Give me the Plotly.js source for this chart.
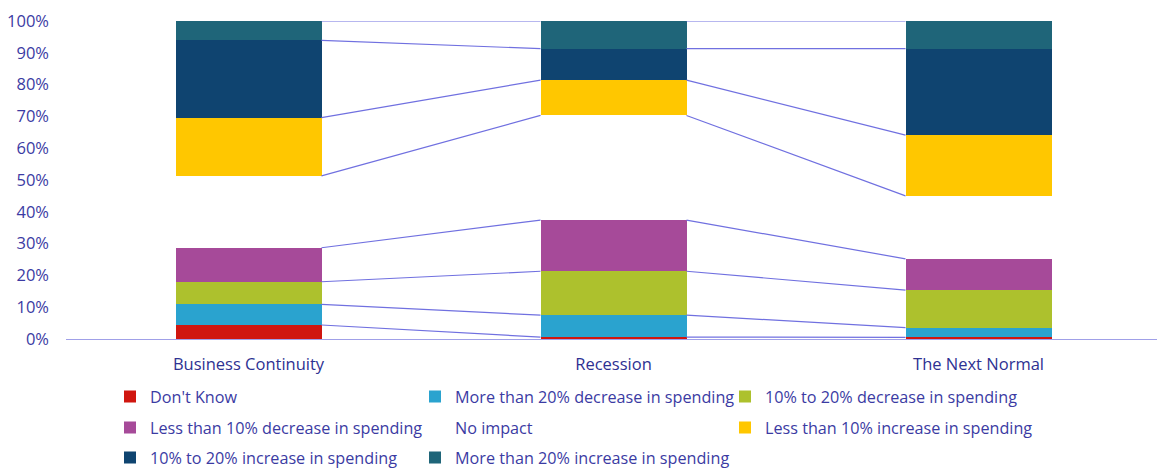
<!DOCTYPE html>
<html>
<head>
<meta charset="utf-8">
<script src="https://cdn.plot.ly/plotly-3.0.1.min.js"></script>
<style>html,body{margin:0;padding:0;background:#fff;}#chart{width:1157px;height:468px;}</style>
</head>
<body>
<div id="chart"></div>
<script>
// Data (percent of respondents)
const categories = ["Business Continuity", "Recession", "The Next Normal"];
const seriesNames = [
  "Don't Know",
  "More than 20% decrease in spending",
  "10% to 20% decrease in spending",
  "Less than 10% decrease in spending",
  "No impact",
  "Less than 10% increase in spending",
  "10% to 20% increase in spending",
  "More than 20% increase in spending"
];
const dontKnow      = [4.4, 0.6, 0.5];
const dec20plus     = [6.5, 6.9, 3.1];
const dec10to20     = [7.1, 13.8, 11.8];
const decLess10     = [10.7, 16.1, 9.8];
const noImpact      = [22.6, 32.9, 19.8];
const incLess10     = [18.3, 11.1, 19.1];
const inc10to20     = [24.3, 9.9, 27.2];
const inc20plus     = [6.1, 8.7, 8.7];
const yTickVals = [0,10,20,30,40,50,60,70,80,90,100];
const yTickText = ["0%","10%","20%","30%","40%","50%","60%","70%","80%","90%","100%"];

const seriesValues = [dontKnow, dec20plus, dec10to20, decLess10, noImpact, incLess10, inc10to20, inc20plus];
const colors = ["#d0160f","#2aa3cf","#adc12d","#a64a99","rgba(0,0,0,0)","#ffc700","#0f4470","#1f6579"];

// legend grid placement (pixels): 3 columns x 3 rows
const legendColX = [110, 415, 725];
const legendRowY = [397, 428, 458];

const xs = categories.map((c,i)=>i);
const barWidth = 0.4;
const traces = [];
const layoutLegends = {};
seriesValues.forEach((vals, k) => {
  const lname = k === 0 ? "legend" : "legend" + (k + 1);
  traces.push({
    type: "bar", x: xs, y: vals, name: seriesNames[k],
    marker: {color: colors[k], line: {width: 0}},
    width: barWidth, legend: lname, hoverinfo: "name+y"
  });
  layoutLegends[lname] = {
    orientation: "h", xref: "container", yref: "container",
    xanchor: "left", yanchor: "middle",
    x: legendColX[k % 3] / 1157, y: 1 - legendRowY[Math.floor(k / 3)] / 468,
    font: {family: "Open Sans, sans-serif", size: 16.2, color: "#3b3ba3"},
    bgcolor: "rgba(0,0,0,0)", itemclick: false
  };
});

// connector lines between cumulative tops
const cum = [];
let running = xs.map(()=>0);
seriesValues.forEach(vals => {
  running = running.map((r,i)=>r+vals[i]);
  cum.push(running.slice());
});
const lx = [], ly = [];
cum.forEach(level => {
  for (let i = 0; i < xs.length - 1; i++) {
    lx.push(xs[i] + barWidth/2, xs[i+1] - barWidth/2, null);
    ly.push(level[i], level[i+1], null);
  }
});
traces.push({
  type: "scatter", mode: "lines", x: lx, y: ly, showlegend: false,
  line: {color: "#7070e0", width: 1.2}, hoverinfo: "skip", cliponaxis: false
});

const layout = Object.assign({
  width: 1157, height: 468,
  margin: {l: 66, r: 0, t: 21, b: 129},
  paper_bgcolor: "#fff", plot_bgcolor: "#fff",
  barmode: "stack",
  showlegend: true,
  font: {family: "Open Sans, sans-serif", color: "#2e3192"},
  xaxis: {
    range: [-0.5, 2.489], tickvals: xs, ticktext: categories,
    showgrid: false, zeroline: false, showline: true, linecolor: "#a0a0e8", linewidth: 1,
    ticks: "", ticklabelstandoff: 10,
    tickfont: {family: "Open Sans, sans-serif", size: 16.5, color: "#2e3192"}
  },
  yaxis: {
    range: [0, 100], tickvals: yTickVals, ticktext: yTickText,
    showgrid: false, zeroline: false, showline: false, ticks: "",
    ticklabelstandoff: 16,
    tickfont: {family: "Open Sans, sans-serif", size: 16.5, color: "#3b3ba3"}
  }
}, layoutLegends);
Plotly.newPlot("chart", traces, layout, {displayModeBar: false, staticPlot: true});
</script>
</body>
</html>
